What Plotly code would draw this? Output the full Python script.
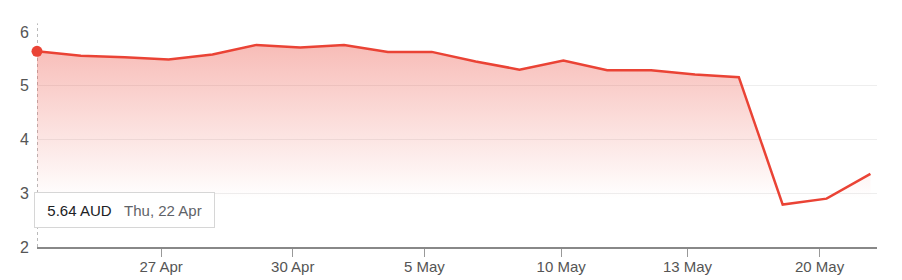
import plotly.graph_objects as go

# Data (trading days)
dates = ["22 Apr", "23 Apr", "26 Apr", "27 Apr", "28 Apr", "29 Apr", "30 Apr",
         "3 May", "4 May", "5 May", "6 May", "7 May", "10 May", "11 May",
         "12 May", "13 May", "14 May", "19 May", "20 May", "21 May"]
prices = [5.64, 5.56, 5.53, 5.49, 5.58, 5.76, 5.71, 5.76, 5.63, 5.63,
          5.45, 5.30, 5.47, 5.29, 5.29, 5.21, 5.16, 2.79, 2.90, 3.36]
tick_labels = ["27 Apr", "30 Apr", "5 May", "10 May", "13 May", "20 May"]
tick_positions = [2.83, 5.83, 8.83, 11.95, 14.83, 17.84]
y_ticks = [2, 3, 4, 5, 6]
hover_index = 0
hover_text = "5.64 AUD"
hover_date = "Thu, 22 Apr"

RED = "#EA4335"
FONT = "Arial, Liberation Sans, Helvetica, sans-serif"

x_idx = list(range(len(prices)))

fig = go.Figure()

fig.add_trace(go.Scatter(
    x=x_idx, y=prices, mode="lines",
    line=dict(color=RED, width=2.5),
    fill="tozeroy",
    fillgradient=dict(type="vertical", start=2.9, stop=5.8,
                      colorscale=[[0, "rgba(234,67,53,0.0)"],
                                  [1, "rgba(234,67,53,0.36)"]]),
    hoverinfo="skip", showlegend=False,
))

# hover marker
fig.add_trace(go.Scatter(
    x=[x_idx[hover_index]], y=[prices[hover_index]], mode="markers",
    marker=dict(color=RED, size=11), hoverinfo="skip", showlegend=False,
    cliponaxis=False,
))

fig.add_shape(type="line", xref="x", yref="paper",
              x0=x_idx[hover_index], x1=x_idx[hover_index], y0=0, y1=1.04,
              line=dict(color="#777", width=1, dash="dot"), layer="below")

fig.add_annotation(
    xref="x", yref="y", x=x_idx[hover_index], y=2.68,
    xanchor="left", yanchor="middle", xshift=-3,
    text=f"<span style='color:#202124'>{hover_text}</span>&nbsp;&nbsp;&nbsp;"
         f"<span style='color:#5f6368'>{hover_date}</span>",
    showarrow=False, font=dict(family=FONT, size=15),
    bgcolor="white", bordercolor="#d6d6d6", borderwidth=1, borderpad=3,
    width=173, height=28, align="center",
)

fig.update_layout(
    width=902, height=280,
    margin=dict(l=37, r=25, t=31.5, b=33.3, autoexpand=False),
    paper_bgcolor="white", plot_bgcolor="white",
    font=dict(family=FONT, size=15, color="#555"),
    xaxis=dict(range=[0, 19.15], tickmode="array", tickvals=tick_positions,
               ticktext=tick_labels, showgrid=False, zeroline=False,
               showline=True, linecolor="#888", linewidth=1.5,
               ticks="outside", ticklen=8, tickcolor="#999", tickwidth=1,
               ticklabelstandoff=-3, automargin=False,
               tickfont=dict(size=15, color="#555")),
    yaxis=dict(range=[2, 6], tickmode="array", tickvals=y_ticks,
               showgrid=True, gridcolor="#eeeeee", gridwidth=1,
               zeroline=False, showline=False, ticks="",
               ticklabelstandoff=7, automargin=False,
               tickfont=dict(size=16, color="#555")),
)

fig.write_html("out.html")
